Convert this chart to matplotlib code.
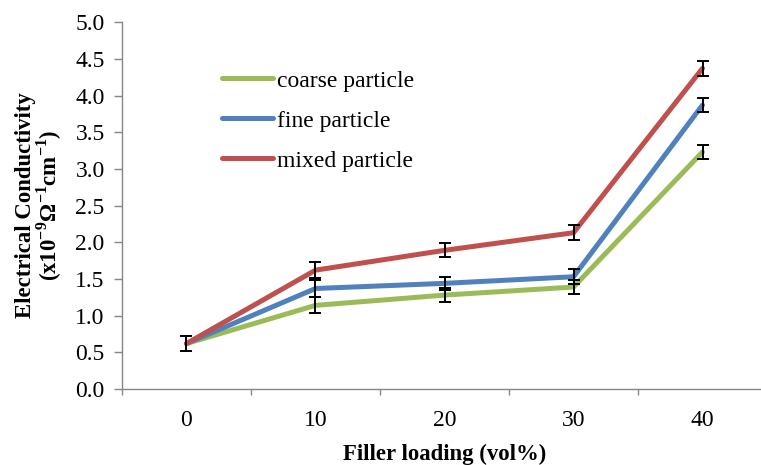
import numpy as np
import matplotlib.pyplot as plt

plt.rcParams['font.family'] = ['Liberation Serif', 'DejaVu Serif']
plt.rcParams['mathtext.fontset'] = 'custom'
plt.rcParams['mathtext.rm'] = 'Liberation Serif:bold'
plt.rcParams['mathtext.bf'] = 'Liberation Serif:bold'

# data
loading = ['0', '10', '20', '30', '40']
coarse = [0.62, 1.14, 1.28, 1.39, 3.23]
fine = [0.62, 1.37, 1.44, 1.53, 3.87]
mixed = [0.62, 1.62, 1.89, 2.13, 4.37]
coarse_err = [0.10, 0.11, 0.10, 0.10, 0.10]
fine_err = [0.10, 0.11, 0.09, 0.10, 0.10]
mixed_err = [0.10, 0.11, 0.095, 0.10, 0.10]

fig = plt.figure(figsize=(7.61, 4.65), dpi=100)
ax = fig.add_axes([0.1603, 0.1634, 0.8476, 0.789])

x = np.arange(len(loading))
series = [
    (coarse, coarse_err, '#9BBB59', 'coarse particle'),
    (fine, fine_err, '#4F81BD', 'fine particle'),
    (mixed, mixed_err, '#C0504D', 'mixed particle'),
]
for vals, err, col, lab in series:
    ax.plot(x, vals, color=col, lw=3.6, label=lab, solid_capstyle='round')
for vals, err, col, lab in series:
    ax.errorbar(x, vals, yerr=err, fmt='none', ecolor='black',
                elinewidth=1.4, capsize=4, capthick=1.4)

ax.set_xlim(-0.5, 4.5)
ax.set_ylim(0, 5.0)
ax.set_yticks(np.arange(0, 5.01, 0.5))
ax.set_yticklabels([f'{v:.1f}' for v in np.arange(0, 5.01, 0.5)])
ax.set_xticks(x)
ax.set_xticklabels(loading)
ax.set_xticks(np.arange(-0.5, 4.6, 1), minor=True)
ax.tick_params(axis='x', which='major', length=0, labelsize=17, pad=15)
ax.tick_params(axis='x', which='minor', length=4, color='#868686', width=1)
ax.tick_params(axis='y', length=5.5, color='#868686', width=1, labelsize=17, pad=7)

for s in ['top', 'right']:
    ax.spines[s].set_visible(False)
for s in ['left', 'bottom']:
    ax.spines[s].set_color('#868686')
    ax.spines[s].set_linewidth(1)

ax.set_xlabel('Filler loading (vol%)', fontsize=16.4, fontweight='bold', labelpad=9)
ax.set_ylabel('Electrical Conductivity\n(x10$^{-9}$Ω$^{-1}$cm$^{-1}$)',
              fontsize=16.4, fontweight='bold', labelpad=8, linespacing=0.95)

ax.legend(loc='upper left', bbox_to_anchor=(0.2917, 0.849),
          bbox_transform=fig.transFigure, frameon=False, fontsize=17,
          handlelength=2.15, handletextpad=0.2, labelspacing=0.78,
          borderpad=0, borderaxespad=0)

plt.savefig('out.png', dpi=100)
